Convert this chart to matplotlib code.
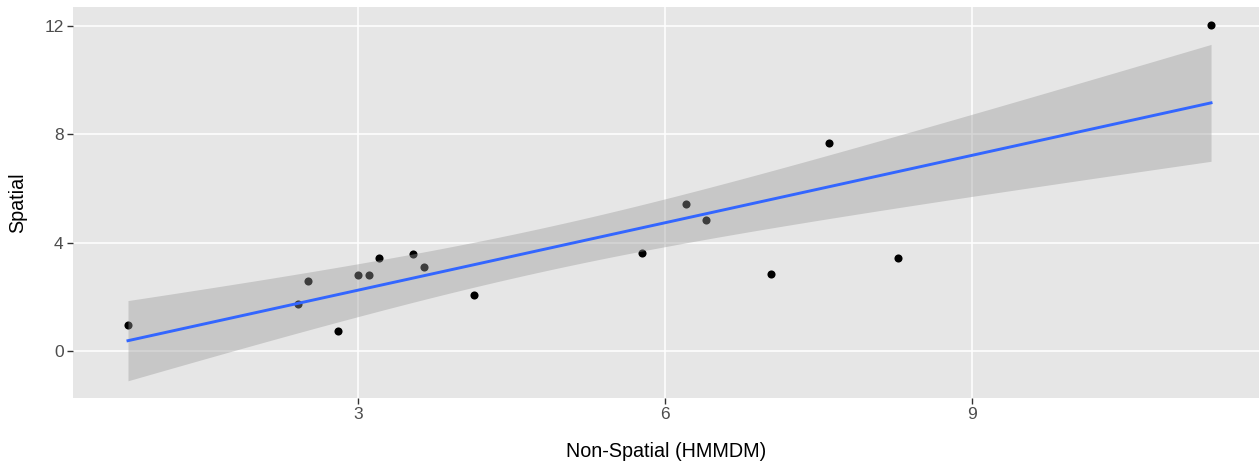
import numpy as np
import matplotlib
matplotlib.use("Agg")
import matplotlib.pyplot as plt

# values
non_spatial = [0.746, 2.405, 2.503, 2.800, 2.992, 3.103, 3.203, 3.530, 3.641,
               4.133, 5.770, 6.203, 6.399, 7.037, 7.599, 8.279, 11.338]
spatial = [0.96, 1.745, 2.593, 0.749, 2.814, 2.803, 3.453, 3.589, 3.121,
           2.088, 3.615, 5.444, 4.832, 2.862, 7.695, 3.441, 12.025]
x_ticks = [3, 6, 9]
y_ticks = [0, 4, 8, 12]

x = np.array(non_spatial)
y = np.array(spatial)

# linear fit with 95% confidence band (like geom_smooth(method = "lm"))
n = len(x)
slope, intercept = np.polyfit(x, y, 1)
resid = y - (intercept + slope * x)
s = np.sqrt(np.sum(resid ** 2) / (n - 2))
t_crit = 2.131  # t(0.975, df = 15)
xs = np.linspace(x.min(), x.max(), 80)
fit = intercept + slope * xs
se = s * np.sqrt(1 / n + (xs - x.mean()) ** 2 / np.sum((x - x.mean()) ** 2))

plt.rcParams['font.family'] = ['Liberation Sans', 'DejaVu Sans']

fig = plt.figure(figsize=(12.59, 4.70), dpi=100)
ax = fig.add_axes([0.0582, 0.1538, 0.9418, 0.8307])
ax.set_facecolor('#E6E6E6')

ax.scatter(x, y, s=34, color='black', zorder=3, linewidths=0)
ax.fill_between(xs, fit - t_crit * se, fit + t_crit * se, color='#999999', alpha=0.4,
                linewidth=0, zorder=4)
ax.plot(xs, fit, color='#3366FF', linewidth=2.1, zorder=5)

ax.set_xlim(0.211, 11.807)
ax.set_ylim(-1.71, 12.69)
ax.set_xticks(x_ticks)
ax.set_yticks(y_ticks)
ax.grid(True, color='white', linewidth=1.1, zorder=0)
ax.set_axisbelow(True)
for sp in ax.spines.values():
    sp.set_visible(False)
ax.tick_params(axis='both', colors='#333333', length=4, width=1, labelsize=12.5,
               labelcolor='#4D4D4D', pad=3)

ax.set_xlabel('Non-Spatial (HMMDM)', fontsize=14.2, color='black', labelpad=14)
ax.set_ylabel('Spatial', fontsize=14.2, color='black', labelpad=12)

fig.savefig('out.png', dpi=100)
